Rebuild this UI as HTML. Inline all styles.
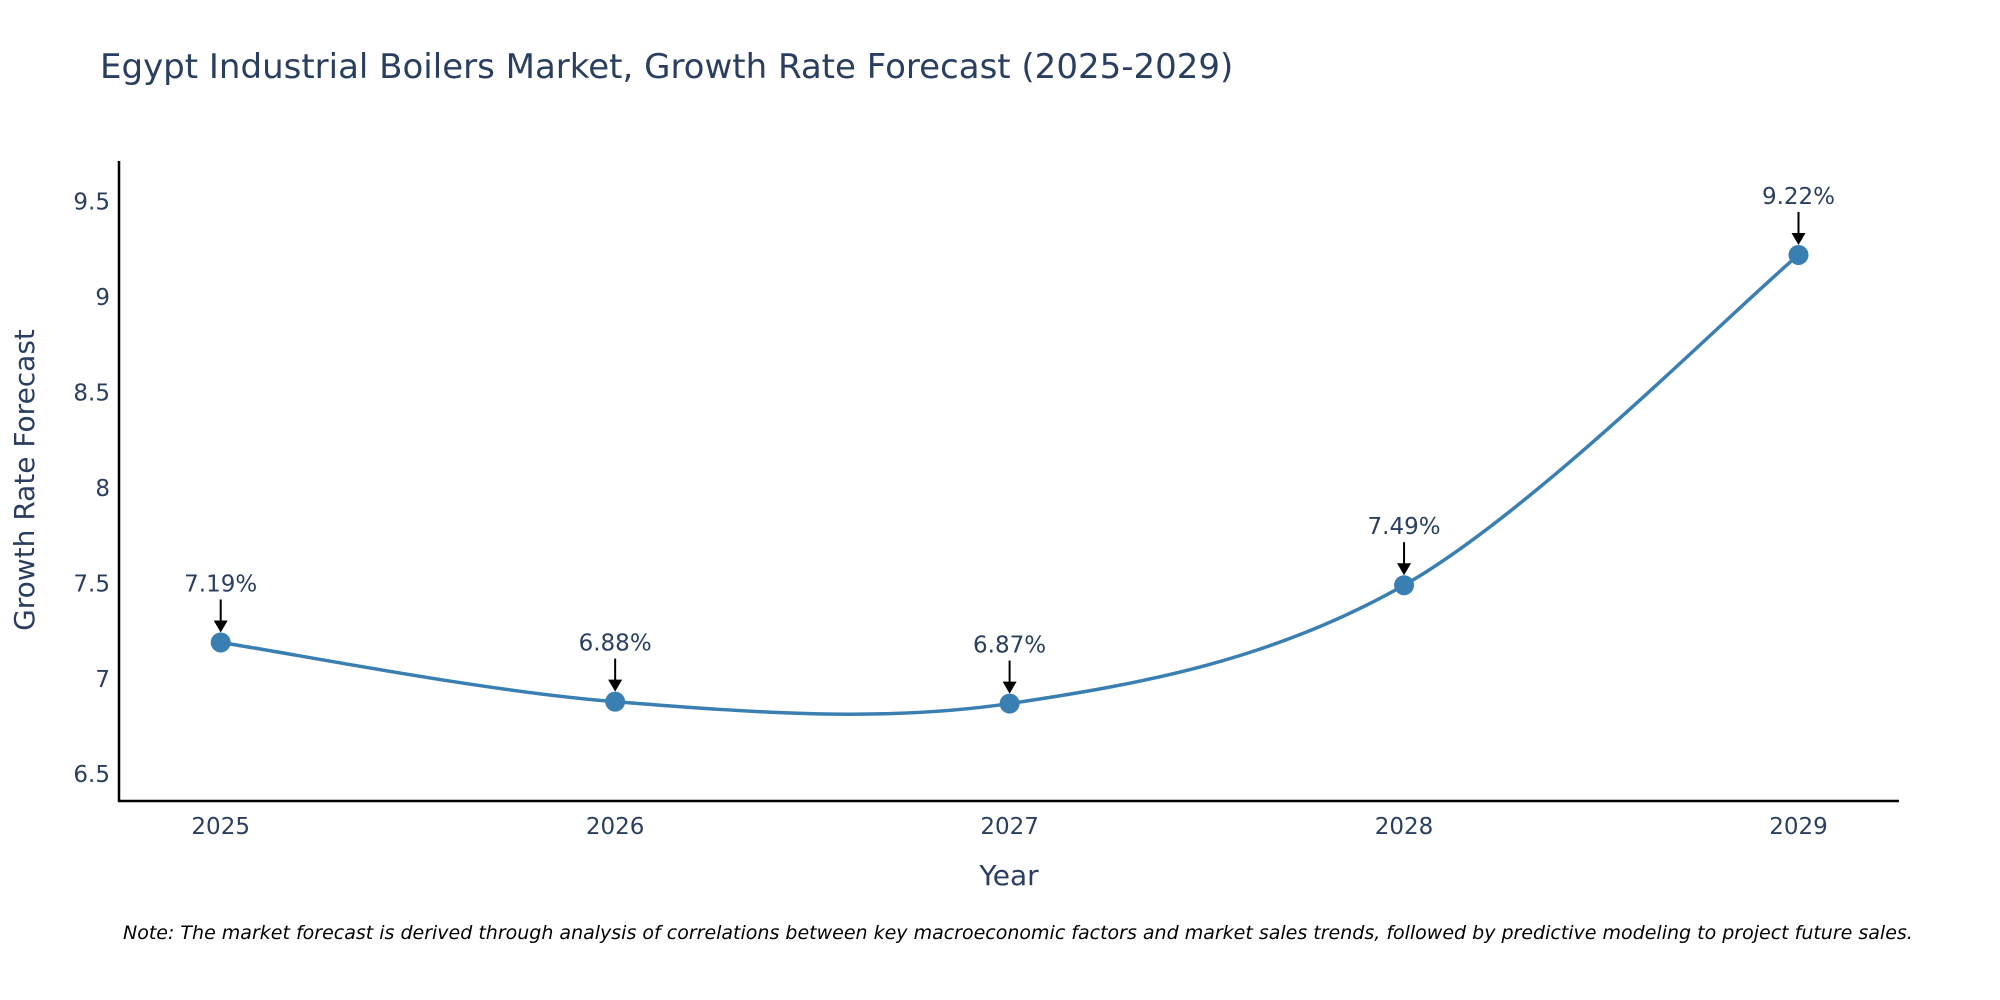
<!DOCTYPE html>
<html><head><meta charset="utf-8"><style>
html,body{margin:0;padding:0;background:#fff;}
svg{display:block;font-family:"DejaVu Sans","Liberation Sans",sans-serif;}
</style></head><body>
<svg id="chart" width="2000" height="1000" viewBox="0 0 2000 1000">
<text x="100" y="78" font-size="34" fill="#2a3f5f">Egypt Industrial Boilers Market, Growth Rate Forecast (2025-2029)</text>
<g id="yticks"></g>
<g id="xticks"></g>
<line x1="119" y1="161" x2="119" y2="802" stroke="#000" stroke-width="2.5"/>
<line x1="118" y1="801" x2="1899" y2="801" stroke="#000" stroke-width="2.5"/>
<text transform="translate(34,480) rotate(-90)" text-anchor="middle" font-size="28" fill="#2a3f5f">Growth Rate Forecast</text>
<text x="1009" y="885" text-anchor="middle" font-size="28" fill="#2a3f5f">Year</text>
<g id="series"></g>
<g id="annos"></g>
<text x="123" y="939" font-size="19" font-style="italic" fill="#000">Note: The market forecast is derived through analysis of correlations between key macroeconomic factors and market sales trends, followed by predictive modeling to project future sales.</text>
</svg>
<script>
const years = [2025, 2026, 2027, 2028, 2029];
const growth = [7.19, 6.88, 6.87, 7.49, 9.22];
const yTickValues = [6.5, 7, 7.5, 8, 8.5, 9, 9.5];
const yTickLabels = ["6.5", "7", "7.5", "8", "8.5", "9", "9.5"];

const NS = "http://www.w3.org/2000/svg";
function xs(v){ return 220.7 + (v - 2025) * 394.45; }
function ys(v){ return 201.5 - (v - 9.5) * 190.9; }
function mk(tag, attrs, parent){
  const e = document.createElementNS(NS, tag);
  for (const k in attrs) e.setAttribute(k, attrs[k]);
  parent.appendChild(e); return e;
}
const yt = document.getElementById('yticks');
yTickValues.forEach((v,i)=>{
  const t = mk('text',{x:110,y:ys(v)+8,'text-anchor':'end','font-size':23,fill:'#2a3f5f'},yt);
  
  
  t.textContent = yTickLabels[i];
});
const xt = document.getElementById('xticks');
years.forEach(y=>{
  const t = mk('text',{x:xs(y),y:834,'text-anchor':'middle','font-size':23,fill:'#2a3f5f'},xt);
  
  
  t.textContent = String(y);
});
const pts = years.map((y,i)=>[xs(y), ys(growth[i])]);
let d = `M${pts[0][0]},${pts[0][1]}`;
for (let i=0;i<pts.length-1;i++){
  const p0 = pts[Math.max(0,i-1)], p1 = pts[i], p2 = pts[i+1], p3 = pts[Math.min(pts.length-1,i+2)];
  const c1 = [p1[0]+(p2[0]-p0[0])/6, p1[1]+(p2[1]-p0[1])/6];
  const c2 = [p2[0]-(p3[0]-p1[0])/6, p2[1]-(p3[1]-p1[1])/6];
  d += ` C${c1[0]},${c1[1]} ${c2[0]},${c2[1]} ${p2[0]},${p2[1]}`;
}
const s = document.getElementById('series');
const path = mk('path',{d:d,fill:'none',stroke:'#3a7fb1','stroke-width':3.5},s);


const an = document.getElementById('annos');
pts.forEach((p,i)=>{
  const c = mk('circle',{cx:p[0],cy:p[1],r:10,fill:'#3a7fb1'},s);
  
  
  const l = mk('line',{x1:p[0],y1:p[1]-43,x2:p[0],y2:p[1]-20,stroke:'#000','stroke-width':2},an);
  
  
  const h = mk('polygon',{points:`${p[0]-7},${p[1]-22} ${p[0]+7},${p[1]-22} ${p[0]},${p[1]-10}`,fill:'#000'},an);
  
  
  const t = mk('text',{x:p[0],y:p[1]-51,'text-anchor':'middle','font-size':23,fill:'#2a3f5f'},an);
  
  
  t.textContent = growth[i].toFixed(2)+'%';
});
</script>
</body></html>
